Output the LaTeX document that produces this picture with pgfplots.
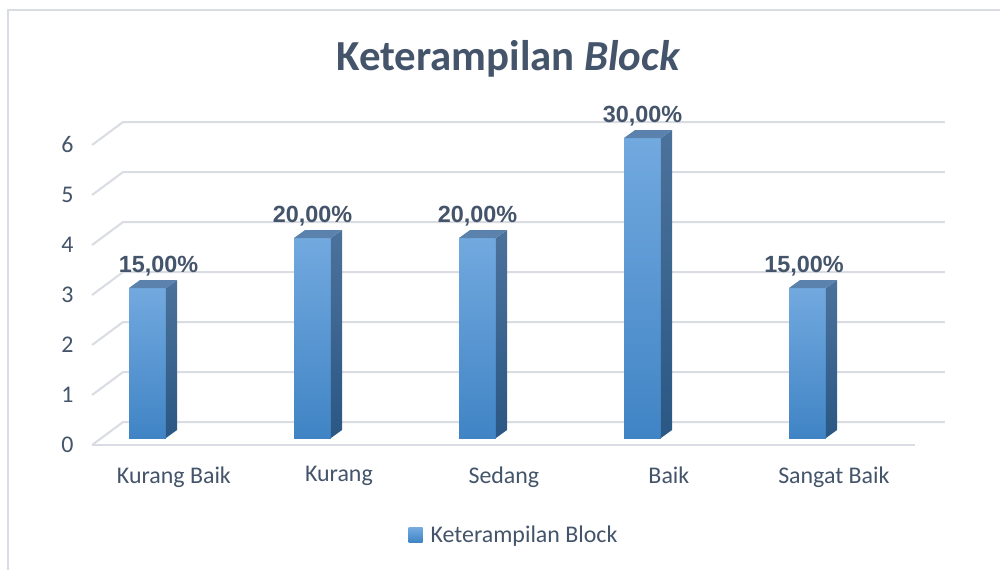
\documentclass[border=0pt]{standalone}
\usepackage{pgfplots}
\pgfplotsset{compat=1.18}
\usepackage{fontspec}
\setmainfont{Carlito}
\newfontfamily\arialf{Liberation Sans}
\definecolor{txt}{HTML}{44546A}
\definecolor{gridc}{HTML}{D9DCE2}
\definecolor{ftop}{HTML}{72A9DF}
\definecolor{fbot}{HTML}{4084C5}
\definecolor{stop}{HTML}{4B729B}
\definecolor{sbot}{HTML}{2B5784}
\definecolor{tface}{HTML}{5A82AC}
\begin{document}
\begin{tikzpicture}
\useasboundingbox (0,0) rectangle (1000bp,570bp);
\fill[white] (0,0) rectangle (1000bp,570bp);
\draw[color=gridc, line width=1.5bp] (8bp,-5bp) -- (8bp,560bp) -- (1005bp,560bp);
\node[anchor=base, font=\fontsize{43}{52}\selectfont\bfseries, text=txt] at (508.5bp,499bp) {Keterampilan \textit{Block}};
\begin{axis}[
  scale only axis, width=874.5bp, height=335bp, at={(81.5bp,122bp)}, anchor=south west,
  xmin=-0.4, xmax=4.9, ymin=-0.2, ymax=6.5, clip=false,
  axis lines=left, axis line style={draw=none}, major tick length=0pt,
  xtick={0.16,1.16,2.16,3.16,4.16},
  xticklabels={Kurang Baik, Kurang, Sedang, Baik, Sangat Baik},
  ytick={-0.14,0.86,1.86,2.86,3.86,4.86,5.86},
  yticklabels={0,1,2,3,4,5,6},
  ticklabel style={font=\fontsize{24}{29}\selectfont, text=txt},
  yticklabel style={xshift=-4.5bp},
  xticklabel style={yshift=-15bp},
  legend style={at={(axis description cs:0.4946,-0.2597)}, anchor=center, draw=none, fill=none,
    font=\fontsize{24}{29}\selectfont, text=txt},
  legend cell align=left,
]
% gridlines (perspective back wall)
\draw[gridc, line width=2bp] (axis cs:-0.336,-0.14) -- (axis cs:-0.148,0.32) -- (axis cs:4.833,0.32);
\draw[gridc, line width=2bp] (axis cs:-0.336,0.86) -- (axis cs:-0.148,1.32) -- (axis cs:4.833,1.32);
\draw[gridc, line width=2bp] (axis cs:-0.336,1.86) -- (axis cs:-0.148,2.32) -- (axis cs:4.833,2.32);
\draw[gridc, line width=2bp] (axis cs:-0.336,2.86) -- (axis cs:-0.148,3.32) -- (axis cs:4.833,3.32);
\draw[gridc, line width=2bp] (axis cs:-0.336,3.86) -- (axis cs:-0.148,4.32) -- (axis cs:4.833,4.32);
\draw[gridc, line width=2bp] (axis cs:-0.336,4.86) -- (axis cs:-0.148,5.32) -- (axis cs:4.833,5.32);
\draw[gridc, line width=2bp] (axis cs:-0.336,5.86) -- (axis cs:-0.148,6.32) -- (axis cs:4.833,6.32);
\draw[gridc, line width=2bp] (axis cs:-0.336,-0.14) -- (axis cs:4.652,-0.14);

% bar 0: Kurang Baik = 3
\addplot[forget plot, draw=none, top color=ftop, bottom color=fbot] coordinates {(-0.112,0) (0.112,0) (0.112,3) (-0.112,3)} -- cycle;
\addplot[forget plot, draw=none, top color=stop, bottom color=sbot] coordinates {(0.112,0) (0.179,0.16) (0.179,3.16) (0.112,3)} -- cycle;
\addplot[forget plot, draw=none, fill=tface] coordinates {(-0.112,3) (0.112,3) (0.179,3.16) (-0.045,3.16)} -- cycle;
% bar 1: Kurang = 4
\addplot[forget plot, draw=none, top color=ftop, bottom color=fbot] coordinates {(0.888,0) (1.112,0) (1.112,4) (0.888,4)} -- cycle;
\addplot[forget plot, draw=none, top color=stop, bottom color=sbot] coordinates {(1.112,0) (1.179,0.16) (1.179,4.16) (1.112,4)} -- cycle;
\addplot[forget plot, draw=none, fill=tface] coordinates {(0.888,4) (1.112,4) (1.179,4.16) (0.955,4.16)} -- cycle;
% bar 2: Sedang = 4
\addplot[forget plot, draw=none, top color=ftop, bottom color=fbot] coordinates {(1.888,0) (2.112,0) (2.112,4) (1.888,4)} -- cycle;
\addplot[forget plot, draw=none, top color=stop, bottom color=sbot] coordinates {(2.112,0) (2.179,0.16) (2.179,4.16) (2.112,4)} -- cycle;
\addplot[forget plot, draw=none, fill=tface] coordinates {(1.888,4) (2.112,4) (2.179,4.16) (1.955,4.16)} -- cycle;
% bar 3: Baik = 6
\addplot[forget plot, draw=none, top color=ftop, bottom color=fbot] coordinates {(2.888,0) (3.112,0) (3.112,6) (2.888,6)} -- cycle;
\addplot[forget plot, draw=none, top color=stop, bottom color=sbot] coordinates {(3.112,0) (3.179,0.16) (3.179,6.16) (3.112,6)} -- cycle;
\addplot[forget plot, draw=none, fill=tface] coordinates {(2.888,6) (3.112,6) (3.179,6.16) (2.955,6.16)} -- cycle;
% bar 4: Sangat Baik = 3
\addplot[forget plot, draw=none, top color=ftop, bottom color=fbot] coordinates {(3.888,0) (4.112,0) (4.112,3) (3.888,3)} -- cycle;
\addplot[forget plot, draw=none, top color=stop, bottom color=sbot] coordinates {(4.112,0) (4.179,0.16) (4.179,3.16) (4.112,3)} -- cycle;
\addplot[forget plot, draw=none, fill=tface] coordinates {(3.888,3) (4.112,3) (4.179,3.16) (3.955,3.16)} -- cycle;

% data labels
\addplot[forget plot, draw=none, mark=none, nodes near coords, point meta=explicit symbolic,
  every node near coord/.style={anchor=base, yshift=15.5bp, xshift=11bp, font=\arialf\bfseries\fontsize{23.5}{27}\selectfont, text=txt}]
  coordinates {(0,3)[15,00\%]};
\addplot[forget plot, draw=none, mark=none, nodes near coords, point meta=explicit symbolic,
  every node near coord/.style={anchor=base, yshift=15.5bp, font=\arialf\bfseries\fontsize{23.5}{27}\selectfont, text=txt}]
  coordinates {(1,4)[20,00\%] (2,4)[20,00\%] (3,6)[30,00\%]};
\addplot[forget plot, draw=none, mark=none, nodes near coords, point meta=explicit symbolic,
  every node near coord/.style={anchor=base, yshift=15.5bp, xshift=-3.5bp, font=\arialf\bfseries\fontsize{23.5}{27}\selectfont, text=txt}]
  coordinates {(4,3)[15,00\%]};

\addlegendimage{legend image code/.code={\path[draw=none, fill=none] (0bp,0bp) -- (20bp,0bp); \path[draw=none, top color=ftop, bottom color=fbot] (0bp,-7bp) rectangle (14bp,7bp);}}
\addlegendentry{Keterampilan Block}
\end{axis}
\end{tikzpicture}
\end{document}
